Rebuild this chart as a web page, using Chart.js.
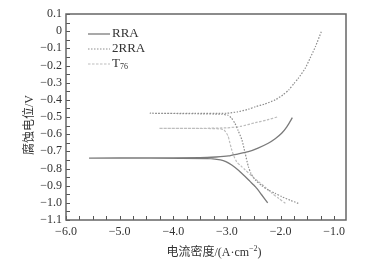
<!DOCTYPE html>
<html lang="zh">

<head>
  <meta charset="UTF-8">
  <title>极化曲线</title>
  <script src="https://cdn.jsdelivr.net/npm/chart.js"></script>
  <style>
    body { margin: 0; background: #fff; }
    #wrap { width: 376px; height: 265px; }
  </style>
</head>

<body>
  <div id="wrap">
    <canvas id="myChart" width="376" height="265"></canvas>
  </div>

  <script>
    // curves: log current density (x) vs corrosion potential (y)
    const rraX = [-2.24, -2.36, -2.47, -2.57, -2.66, -2.78, -2.91, -3.02, -3.12, -3.3, -4.5, -5.57, -4.5, -3.5, -3.2, -2.97, -2.8, -2.6, -2.42, -2.23, -2.1, -1.98, -1.88, -1.78];
    const rraY = [-1.0, -0.95, -0.906, -0.875, -0.847, -0.812, -0.78, -0.76, -0.75, -0.742, -0.739, -0.739, -0.738, -0.737, -0.733, -0.727, -0.716, -0.702, -0.681, -0.653, -0.627, -0.595, -0.556, -0.504];

    const rra2X = [-1.67, -1.82, -1.98, -2.1, -2.23, -2.35, -2.47, -2.55, -2.6, -2.66, -2.72, -2.79, -2.85, -2.92, -2.98, -3.1, -3.6, -4.43, -3.6, -3.0, -2.8, -2.6, -2.47, -2.3, -2.1, -1.95, -1.85, -1.75, -1.67, -1.54, -1.45, -1.35, -1.24];
    const rra2Y = [-1.003, -0.985, -0.964, -0.945, -0.925, -0.9, -0.867, -0.83, -0.789, -0.711, -0.634, -0.58, -0.537, -0.505, -0.49, -0.484, -0.481, -0.478, -0.479, -0.478, -0.47, -0.455, -0.44, -0.425, -0.40, -0.37, -0.343, -0.305, -0.275, -0.216, -0.158, -0.09, -0.003];

    const t76X = [-1.91, -2.03, -2.16, -2.28, -2.41, -2.53, -2.66, -2.74, -2.82, -2.87, -2.91, -2.95, -2.98, -3.07, -3.5, -4.26, -3.5, -3.0, -2.75, -2.47, -2.25, -2.04];
    const t76Y = [-1.003, -0.975, -0.944, -0.91, -0.877, -0.845, -0.808, -0.785, -0.76, -0.728, -0.692, -0.645, -0.61, -0.572, -0.567, -0.566, -0.566, -0.563, -0.555, -0.533, -0.517, -0.498];

    // axis ticks
    const xLabels = [-6, -5, -4, -3, -2, -1];
    const xMinorStep = 0.25;
    const yStep = 0.05;

    const xMin = -6, xMax = -0.78;
    const yMin = -1.1, yMax = 0.1;

    const serif = '"Liberation Serif", "Noto Sans CJK SC", serif';

    function pts(xs, ys) {
      return xs.map((x, i) => ({ x: x, y: ys[i] }));
    }

    function minus(s) {
      return s.replace('-', '\u2212');
    }

    // frame, inward ticks, legend and axis titles
    const extras = {
      id: 'extras',
      afterDraw(chart) {
        const ctx = chart.ctx;
        const a = chart.chartArea;
        const sx = chart.scales.x, sy = chart.scales.y;
        ctx.save();

        ctx.strokeStyle = '#555';
        ctx.lineWidth = 1;
        ctx.beginPath();
        sx.ticks.forEach(t => {
          const px = Math.round(sx.getPixelForValue(t.value)) + 0.5;
          ctx.moveTo(px, a.bottom);
          ctx.lineTo(px, a.bottom - 4);
        });
        sy.ticks.forEach(t => {
          if (Math.abs(t.value / yStep - Math.round(t.value / yStep)) > 1e-6) return;
          const py = Math.round(sy.getPixelForValue(t.value)) + 0.5;
          ctx.moveTo(a.left, py);
          ctx.lineTo(a.left + 4, py);
        });
        ctx.stroke();

        ctx.strokeStyle = '#666';
        ctx.lineWidth = 1.5;
        ctx.strokeRect(a.left, a.top, a.right - a.left, a.bottom - a.top);

        // legend
        chart.data.datasets.forEach((ds, i) => {
          const y = a.top + 20 + i * 15;
          ctx.strokeStyle = ds.borderColor;
          ctx.lineWidth = ds.borderWidth;
          ctx.setLineDash(ds.borderDash || []);
          ctx.beginPath();
          ctx.moveTo(a.left + 22, y);
          ctx.lineTo(a.left + 44, y);
          ctx.stroke();
          ctx.setLineDash([]);
          ctx.fillStyle = '#333';
          ctx.textBaseline = 'middle';
          ctx.textAlign = 'left';
          ctx.font = '13px ' + serif;
          if (ds.label === 'T76') {
            ctx.fillText('T', a.left + 46, y);
            const w = ctx.measureText('T').width;
            ctx.font = '8px ' + serif;
            ctx.fillText('76', a.left + 46 + w, y + 3);
          } else {
            ctx.fillText(ds.label, a.left + 46, y);
          }
        });

        // axis titles
        ctx.fillStyle = '#333';
        ctx.font = '12px ' + serif;
        ctx.textBaseline = 'middle';

        const t1 = '电流密度/(A·cm', t2 = '\u22122', t3 = ')';
        const w1 = ctx.measureText(t1).width;
        const w3 = ctx.measureText(t3).width;
        ctx.font = '8px ' + serif;
        const w2 = ctx.measureText(t2).width;
        let x0 = 214 - (w1 + w2 + w3) / 2;
        ctx.textAlign = 'left';
        ctx.font = '12px ' + serif;
        ctx.fillText(t1, x0, 253);
        ctx.font = '8px ' + serif;
        ctx.fillText(t2, x0 + w1, 249);
        ctx.font = '12px ' + serif;
        ctx.fillText(t3, x0 + w1 + w2, 253);

        ctx.translate(30, 125);
        ctx.rotate(-Math.PI / 2);
        ctx.textAlign = 'center';
        ctx.fillText('腐蚀电位/V', 0, 0);

        ctx.restore();
      }
    };

    new Chart(document.getElementById('myChart'), {
      type: 'scatter',
      data: {
        datasets: [
          {
            label: 'RRA',
            data: pts(rraX, rraY),
            showLine: true,
            borderColor: '#7a7a7a',
            borderWidth: 1.3,
            pointRadius: 0,
            tension: 0.2
          },
          {
            label: '2RRA',
            data: pts(rra2X, rra2Y),
            showLine: true,
            borderColor: '#8e8e8e',
            borderWidth: 1.2,
            borderDash: [1.5, 1.5],
            pointRadius: 0,
            tension: 0.2
          },
          {
            label: 'T76',
            data: pts(t76X, t76Y),
            showLine: true,
            borderColor: '#bdbdbd',
            borderWidth: 1.2,
            borderDash: [2.5, 1.5],
            pointRadius: 0,
            tension: 0.2
          }
        ]
      },
      options: {
        responsive: false,
        animation: false,
        layout: { padding: { top: 14, right: 30, left: 0, bottom: 0 } },
        plugins: {
          legend: { display: false },
          tooltip: { enabled: false }
        },
        scales: {
          x: {
            type: 'linear',
            min: xMin,
            max: xMax,
            afterFit: s => { s.height = 45; },
            afterBuildTicks: s => {
              const ticks = [];
              const n = Math.round((xLabels[xLabels.length - 1] - xMin) / xMinorStep);
              for (let i = 0; i <= n; i++) ticks.push({ value: xMin + i * xMinorStep });
              s.ticks = ticks;
            },
            grid: { display: false, drawTicks: false },
            border: { display: false },
            ticks: {
              autoSkip: false,
              maxRotation: 0,
              padding: 5,
              color: '#333',
              font: { family: serif, size: 12 },
              callback: v => xLabels.includes(v) ? minus(v.toFixed(1)) : ''
            }
          },
          y: {
            type: 'linear',
            min: yMin,
            max: yMax,
            afterFit: s => { s.width = 66; },
            grid: { display: false, drawTicks: false },
            border: { display: false },
            ticks: {
              stepSize: yStep,
              autoSkip: false,
              padding: 4,
              color: '#333',
              font: { family: serif, size: 12 },
              callback: v => {
                const k = Math.round(v * 100);
                if (k % 10 !== 0) return '';
                return k === 0 ? '0' : minus((k / 100).toFixed(1));
              }
            }
          }
        }
      },
      plugins: [extras]
    });
  </script>
</body>

</html>
